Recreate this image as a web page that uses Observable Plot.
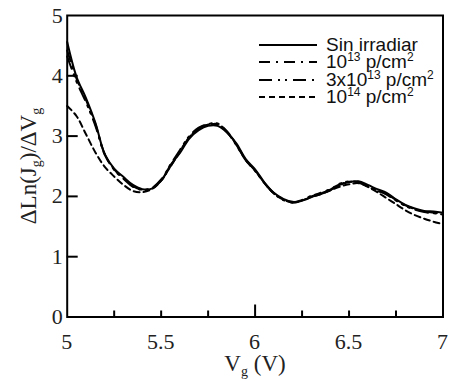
<!DOCTYPE html>
<html><head><meta charset="utf-8">
<script src="https://cdn.jsdelivr.net/npm/d3@7"></script>
<script src="https://cdn.jsdelivr.net/npm/@observablehq/plot@0.6"></script>
<style>
body{margin:0;background:#fff}
#wrap{position:relative;width:450px;height:381px}
#legend{position:absolute;left:258px;top:36px;font-family:"Liberation Sans",Arial,sans-serif;font-size:19px;color:#111}
#legend .row{display:flex;align-items:center;height:17.5px;white-space:nowrap}
#legend svg{margin-right:8px}
#legend sup{font-size:12px;vertical-align:7px;line-height:0}
</style>
</head><body><div id="wrap"></div><script>
const vg = [5.00,5.05,5.10,5.15,5.20,5.25,5.30,5.35,5.40,5.45,5.50,5.55,5.60,5.65,5.70,5.75,5.80,5.85,5.90,5.95,6.00,6.05,6.10,6.15,6.20,6.25,6.30,6.35,6.40,6.45,6.50,6.55,6.60,6.65,6.70,6.75,6.80,6.85,6.90,6.95,7.00];
const sinIrradiar = [4.56,3.98,3.63,3.22,2.70,2.46,2.32,2.19,2.12,2.13,2.26,2.52,2.72,2.96,3.10,3.17,3.17,3.06,2.88,2.62,2.45,2.23,2.06,1.96,1.91,1.93,1.99,2.04,2.10,2.19,2.24,2.25,2.19,2.12,2.06,1.95,1.86,1.80,1.76,1.75,1.73];
const p1e13 = [4.42,3.95,3.60,3.20,2.70,2.45,2.30,2.17,2.11,2.13,2.27,2.50,2.75,2.98,3.13,3.19,3.20,3.08,2.86,2.60,2.43,2.22,2.05,1.95,1.90,1.93,2.00,2.06,2.12,2.20,2.24,2.24,2.17,2.10,2.03,1.93,1.85,1.79,1.75,1.73,1.71];
const p3e13 = [4.32,3.90,3.56,3.17,2.69,2.44,2.29,2.16,2.11,2.14,2.28,2.53,2.77,3.00,3.14,3.20,3.21,3.07,2.85,2.60,2.42,2.22,2.05,1.94,1.90,1.94,2.01,2.05,2.11,2.21,2.25,2.23,2.16,2.09,2.04,1.94,1.84,1.78,1.74,1.72,1.70];
const p1e14 = [3.50,3.33,3.03,2.73,2.49,2.33,2.19,2.09,2.07,2.12,2.26,2.50,2.74,2.98,3.12,3.19,3.19,3.07,2.86,2.61,2.43,2.22,2.05,1.95,1.90,1.93,1.99,2.04,2.10,2.16,2.20,2.22,2.16,2.07,1.97,1.87,1.77,1.69,1.63,1.58,1.54];
const seriesLabels = ["Sin irradiar","10<sup>13</sup> p/cm<sup>2</sup>","3x10<sup>13</sup> p/cm<sup>2</sup>","10<sup>14</sup> p/cm<sup>2</sup>"];
const xTickLabels = [5,5.5,6,6.5,7];
const yTickLabels = [0,1,2,3,4,5];
const xMinorTicks = [5.25,5.5,5.75,6.25,6.5,6.75];
const xMajorTicks = [6];
const yInnerTicks = [1,2,3,4];

const seriesValues = [sinIrradiar, p1e13, p3e13, p1e14];
const dashes = [null, "11,6,2,6", "13,6,2,5,2,6", "6,4"];
const rows = seriesValues.map(arr => vg.map((v,i)=>({v, val: arr[i]})));
const serif = "Liberation Serif, Times New Roman, serif";

const W = 450, H = 381, mL = 66.7, mR = 7.5, mT = 15, mB = 64.5;
const plotW = W - mL - mR, plotH = H - mT - mB;

const plot = Plot.plot({
  width: W, height: H,
  marginLeft: mL, marginRight: mR, marginTop: mT, marginBottom: mB,
  style: {background: "#fff"},
  x: {domain: [5,7], axis: null},
  y: {domain: [0,5], axis: null},
  marks: [
    ...rows.map((r,k)=>Plot.line(r, {x:"v", y:"val", curve:"catmull-rom", stroke:"#000", strokeWidth:2, strokeDasharray: dashes[k] ?? undefined})),
    Plot.tickX(xMinorTicks, {x: d=>d, insetTop: plotH - 6, stroke: "#000", strokeWidth: 2}),
    Plot.tickX(xMajorTicks, {x: d=>d, insetTop: plotH - 12, stroke: "#000", strokeWidth: 2}),
    Plot.tickY(yInnerTicks, {y: d=>d, insetRight: plotW - 11, stroke: "#000", strokeWidth: 2}),
    Plot.frame({stroke:"#000", strokeWidth: 2})
  ]
});
const wrap = document.getElementById("wrap");
wrap.appendChild(plot);

const sx = plot.scale("x"), sy = plot.scale("y");
const svg = d3.select(plot);
const gl = svg.append("g").attr("font-family", serif).attr("font-size", 22).attr("fill", "#222");
gl.selectAll("text.xt").data(xTickLabels).join("text").attr("class","xt")
  .attr("x", d=>sx.apply(d)).attr("y", sy.apply(0) + 32).attr("text-anchor","middle").text(d=>String(d));
gl.selectAll("text.yt").data(yTickLabels).join("text").attr("class","yt")
  .attr("x", sx.apply(5) - 4).attr("y", d=>sy.apply(d) + 7.5).attr("text-anchor","end").text(d=>String(d));

// x label
const xl = svg.append("text").attr("x", 255).attr("y", 371).attr("text-anchor","middle")
  .attr("font-family", serif).attr("font-size", 23).attr("fill","#222");
xl.append("tspan").text("V");
xl.append("tspan").attr("font-size",14).attr("dy",5).text("g");
xl.append("tspan").attr("dy",-5).text(" (V)");
// y label
const yl = svg.append("text").attr("transform","translate(36,166) rotate(-90)").attr("text-anchor","middle")
  .attr("font-family", serif).attr("font-size", 23).attr("fill","#222");
yl.append("tspan").text("ΔLn(J");
yl.append("tspan").attr("font-size",14).attr("dy",5).text("g");
yl.append("tspan").attr("dy",-5).text(")/ΔV");
yl.append("tspan").attr("font-size",14).attr("dy",5).text("g");

// legend
const leg = document.createElement("div");
leg.id = "legend";
seriesLabels.forEach((lab,k)=>{
  const row = document.createElement("div");
  row.className = "row";
  row.innerHTML = `<svg width="60" height="6"><line x1="1" y1="3" x2="59" y2="3" stroke="#000" stroke-width="2" ${dashes[k] ? `stroke-dasharray="${dashes[k]}"` : ""}/></svg><span>${lab}</span>`;
  leg.appendChild(row);
});
wrap.appendChild(leg);
</script></body></html>
